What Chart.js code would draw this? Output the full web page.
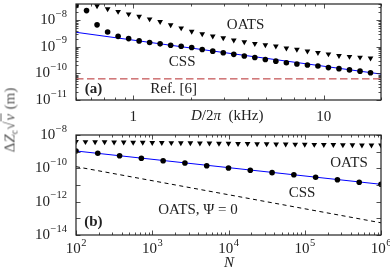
<!DOCTYPE html>
<html>
<head>
<meta charset="utf-8">
<script src="https://cdn.jsdelivr.net/npm/chart.js"></script>
<style>
  html, body { margin: 0; padding: 0; background: #fff; }
  #wrap { position: relative; width: 390px; height: 273px; overflow: hidden; font-family: "Liberation Serif", serif; }
  #ca { position: absolute; left: 0; top: 0; }
  #cb { position: absolute; left: 0; top: 125px; }
  #ylab { position: absolute; left: 11px; top: 120px; transform: translate(-50%, -50%) rotate(-90deg);
          white-space: nowrap; font-size: 15px; font-weight: 400; color: #555; line-height: 1;
          -webkit-font-smoothing: antialiased; }
  #ylab sub { font-size: 10px; vertical-align: -3px; }
  #ylab .ov { border-top: 1px solid #666; font-style: italic; padding: 0 1px; }
</style>
</head>
<body>
<div id="wrap">
  <canvas id="ca" width="390" height="125"></canvas>
  <canvas id="cb" width="390" height="148"></canvas>
  <div id="ylab">Δ<i>Z</i><sub>c</sub>√<span class="ov">ν</span> (m)</div>
</div>
<script>
// ---- panel (a): precision vs D/2π (kHz)
const freqKHz = [0.5, 0.568, 0.645, 0.733, 0.832, 0.945, 1.073, 1.218, 1.383, 1.571,
  1.784, 2.026, 2.301, 2.614, 2.968, 3.371, 3.828, 4.348, 4.938, 5.607,
  6.368, 7.232, 8.214, 9.328, 10.59, 12.03, 13.66, 15.52, 17.62];
const cssA = [3.5e-8, 2.26e-8, 6.6e-9, 3.56e-9, 2.44e-9, 2.01e-9, 1.65e-9, 1.44e-9, 1.28e-9, 1.13e-9,
  1.04e-9, 9.3e-10, 7.85e-10, 6.8e-10, 5.95e-10, 5.16e-10, 4.48e-10, 3.92e-10, 3.31e-10, 2.87e-10,
  2.49e-10, 2.23e-10, 2.05e-10, 1.89e-10, 1.64e-10, 1.5e-10, 1.35e-10, 1.21e-10, 1.05e-10];
const oatsA = [null, null, 3.38e-8, 2.62e-8, 2.08e-8, 1.68e-8, 1.36e-8, 1.09e-8, 8.7e-9, 6.6e-9,
  5.0e-9, 3.77e-9, 3.0e-9, 2.48e-9, 2.15e-9, 1.77e-9, 1.5e-9, 1.3e-9, 1.17e-9, 1.04e-9,
  8.8e-10, 7.9e-10, 6.8e-10, 5.95e-10, 5.3e-10, 4.63e-10, 4.26e-10, 4.0e-10, 3.7e-10];
const fitFreq = [0.5, 20];
const fitA = [3.47e-9, 9.4e-11];
const refLevel = 6.2e-11;

// ---- panel (b): precision vs N
const nCss = [100, 193, 373, 720, 1389, 2683, 5179, 10000, 19307, 37276, 71969, 138950, 268270, 517947, 1000000];
const cssB = [1.1e-9, 8.0e-10, 5.7e-10, 4.0e-10, 2.87e-10, 2.09e-10, 1.44e-10, 1.05e-10, 7.6e-11, 5.5e-11,
  4.15e-11, 2.9e-11, 2.08e-11, 1.45e-11, 1.1e-11];
const nOats = [100, 133, 178, 237, 316, 422, 562, 750, 1000, 1334, 1778, 2371, 3162, 4217, 5623, 7499,
  10000, 13335, 17783, 23714, 31623, 42170, 56234, 74989, 100000, 133352, 177828, 237137, 316228,
  421697, 562341, 749894, 1000000];
const oatsB = [4.0e-9, 3.9e-9, 3.85e-9, 3.8e-9, 3.75e-9, 3.7e-9, 3.6e-9, 3.55e-9, 3.5e-9, 3.45e-9,
  3.4e-9, 3.35e-9, 3.3e-9, 3.25e-9, 3.2e-9, 3.15e-9, 3.1e-9, 3.05e-9, 3.0e-9, 2.95e-9,
  2.9e-9, 2.85e-9, 2.8e-9, 2.76e-9, 2.72e-9, 2.68e-9, 2.64e-9, 2.6e-9, 2.56e-9, 2.52e-9,
  2.48e-9, 2.45e-9, 2.42e-9];
const fitN = [100, 1000000];
const fitB = [1.1e-9, 1.1e-11];
const psi0B = [1.26e-10, 5.4e-14];

// tick labels
const xTicksA = [1, 10];
const yExpA = [-8, -9, -10, -11];
const xExpB = [2, 3, 4, 5, 6];
const yExpB = [-8, -10, -12, -14];

const FONT = '"Liberation Serif", serif';
const INK = '#222';

const pts = (xs, ys) => xs.map((x, i) => ({ x: x, y: ys[i] })).filter(p => p.y != null);

const dots = (data) => ({
  data: data, order: 0, clip: 0,
  pointStyle: 'circle', pointRadius: 2.8, pointBackgroundColor: '#000', pointBorderWidth: 0,
});
const tris = (data) => ({
  data: data, order: 1, clip: 0,
  pointStyle: 'triangle', pointRotation: 180, pointRadius: 3.3,
  pointBackgroundColor: '#000', pointBorderWidth: 0,
});
const line = (data, color, dash, order) => ({
  data: data, order: order, clip: 0, showLine: true, pointRadius: 0,
  borderColor: color, borderWidth: 1, borderDash: dash,
});

// minor/major tick positions for a log axis
const logTicks = (min, max, minors) => {
  const out = [];
  for (let e = Math.floor(Math.log10(min)); e <= Math.ceil(Math.log10(max)); e++) {
    const d = Math.pow(10, e);
    if (d >= min * 0.999 && d <= max * 1.001) out.push({ v: d, major: true });
    if (minors) for (let k = 2; k <= 9; k++) {
      const v = k * d;
      if (v >= min * 0.999 && v <= max * 1.001) out.push({ v: v, major: false });
    }
  }
  return out;
};

const drawPow = (ctx, base, exp, x, y, align) => {
  ctx.textBaseline = 'middle';
  ctx.textAlign = 'left';
  ctx.font = '15px ' + FONT;
  const bw = ctx.measureText(base).width;
  ctx.font = '10.5px ' + FONT;
  const ew = ctx.measureText(exp).width;
  const total = bw + ew + 0.5;
  const x0 = align === 'right' ? x - total : x - total / 2;
  ctx.font = '15px ' + FONT;
  ctx.fillText(base, x0, y);
  ctx.font = '10.5px ' + FONT;
  ctx.fillText(exp, x0 + bw + 0.5, y - 6);
};

const decor = (cfg) => ({
  id: 'decor',
  afterDraw(chart) {
    const { ctx, chartArea: a, scales: { x, y } } = chart;
    ctx.save();
    ctx.strokeStyle = INK;
    ctx.fillStyle = INK;
    ctx.lineWidth = 0.8;
    ctx.beginPath();
    for (const t of cfg.xTicks) {
      const px = Math.round(x.getPixelForValue(t.v)) + 0.5;
      const len = t.major ? 4.5 : 2.5;
      ctx.moveTo(px, a.bottom); ctx.lineTo(px, a.bottom - len);
      ctx.moveTo(px, a.top); ctx.lineTo(px, a.top + len);
    }
    for (const t of cfg.yTicks) {
      const py = Math.round(y.getPixelForValue(t.v)) + 0.5;
      const len = t.major ? 4.5 : 2.5;
      ctx.moveTo(a.left, py); ctx.lineTo(a.left + len, py);
      ctx.moveTo(a.right, py); ctx.lineTo(a.right - len, py);
    }
    ctx.stroke();
    ctx.lineWidth = 1.2;
    ctx.strokeRect(a.left, a.top, a.right - a.left, a.bottom - a.top);

    // tick labels
    cfg.yLabels.forEach(e => drawPow(ctx, '10', '−' + Math.abs(e), a.left - 9, y.getPixelForValue(Math.pow(10, e)), 'right'));
    cfg.xLabels.forEach(l => {
      if (l.exp != null) drawPow(ctx, '10', String(l.exp), x.getPixelForValue(l.v), a.bottom + cfg.xLabelDy, 'center');
      else {
        ctx.font = '15px ' + FONT; ctx.textAlign = 'center'; ctx.textBaseline = 'middle';
        ctx.fillText(l.text, x.getPixelForValue(l.v), a.bottom + cfg.xLabelDy);
      }
    });

    // annotations: runs of [text, style] centered at a fraction of the plot area
    for (const n of cfg.notes) {
      const cx = a.left + n.fx * (a.right - a.left);
      const cy = a.top + n.fy * (a.bottom - a.top);
      let w = 0;
      for (const r of n.runs) { ctx.font = (r[1] || '') + ' 15px ' + FONT; w += ctx.measureText(r[0]).width; }
      let px = cx - w / 2;
      ctx.textAlign = 'left'; ctx.textBaseline = 'middle';
      for (const r of n.runs) {
        ctx.font = (r[1] || '') + ' 15px ' + FONT;
        ctx.fillText(r[0], px, cy);
        px += ctx.measureText(r[0]).width;
      }
    }
    ctx.restore();
  }
});

const axis = (min, max, isX) => ({
  type: 'logarithmic', min: min, max: max,
  ticks: { display: false },
  grid: { display: false, drawTicks: false },
  border: { display: false },
  afterFit(s) { if (isX) s.height = 0; else s.width = 0; },
});

const baseOptions = (pad, xr, yr) => ({
  responsive: false, animation: false, events: [],
  layout: { padding: pad },
  plugins: { legend: { display: false }, tooltip: { enabled: false } },
  scales: { x: axis(xr[0], xr[1], true), y: axis(yr[0], yr[1], false) },
});

new Chart(document.getElementById('ca'), {
  type: 'scatter',
  data: {
    datasets: [
      dots(pts(freqKHz, cssA)),
      tris(pts(freqKHz, oatsA)),
      line(pts(fitFreq, fitA), '#0000ff', [], 2),
      line(pts(fitFreq, [refLevel, refLevel]), '#b5282b', [7.5, 3.5], 3),
    ],
  },
  options: baseOptions({ left: 76, right: 9, top: 1, bottom: 25 }, [0.5, 20], [1e-11, 4e-8]),
  plugins: [decor({
    xTicks: logTicks(0.5, 20, true),
    yTicks: logTicks(1e-11, 4e-8, true),
    yLabels: yExpA,
    xLabels: xTicksA.map(v => ({ v: v, text: String(v) })),
    xLabelDy: 17,
    notes: [
      { fx: 0.556, fy: 0.22, runs: [['OATS']] },
      { fx: 0.348, fy: 0.6, runs: [['CSS']] },
      { fx: 0.32, fy: 0.89, runs: [['Ref. [6]']] },
      { fx: 0.057, fy: 0.89, runs: [['(a)', 'bold']] },
      { fx: 0.496, fy: 1.17, runs: [['D', 'italic'], ['/2'], ['π', 'italic'], ['  (kHz)']] },
    ],
  })],
});

new Chart(document.getElementById('cb'), {
  type: 'scatter',
  data: {
    datasets: [
      dots(pts(nCss, cssB)),
      tris(pts(nOats, oatsB)),
      line(pts(fitN, fitB), '#0000ff', [], 2),
      line(pts(fitN, psi0B), '#000', [4, 3.5], 3),
    ],
  },
  options: baseOptions({ left: 76, right: 9, top: 10, bottom: 38 }, [100, 1e6], [1e-14, 1e-8]),
  plugins: [decor({
    xTicks: logTicks(100, 1e6, true),
    yTicks: logTicks(1e-14, 1e-8, false),
    yLabels: yExpB,
    xLabels: xExpB.map(e => ({ v: Math.pow(10, e), exp: e })),
    xLabelDy: 14,
    notes: [
      { fx: 0.895, fy: 0.285, runs: [['OATS']] },
      { fx: 0.741, fy: 0.58, runs: [['CSS']] },
      { fx: 0.4, fy: 0.75, runs: [['OATS, Ψ = 0']] },
      { fx: 0.057, fy: 0.87, runs: [['(b)', 'bold']] },
      { fx: 0.502, fy: 1.28, runs: [['N', 'italic']] },
    ],
  })],
});
</script>
</body>
</html>
